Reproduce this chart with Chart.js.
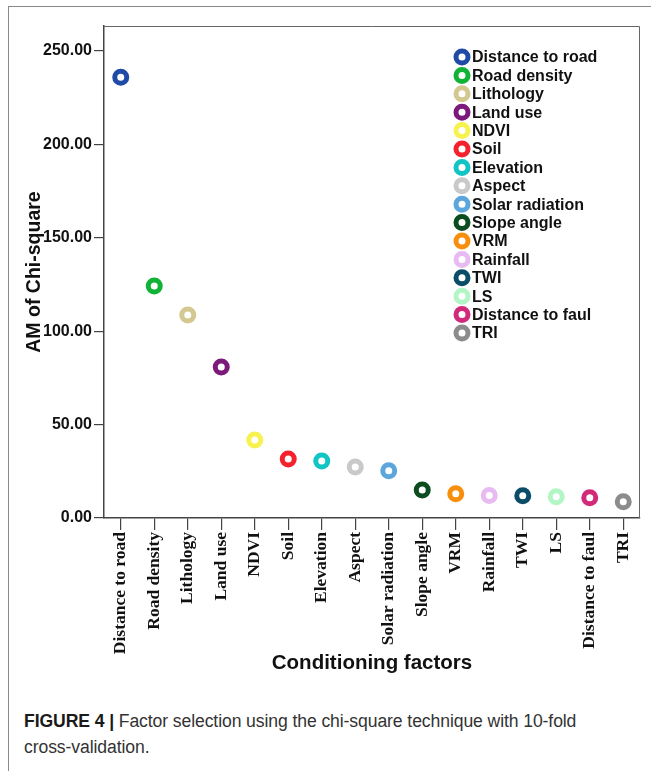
<!DOCTYPE html>
<html>
<head>
<meta charset="utf-8">
<script src="https://cdn.jsdelivr.net/npm/chart.js@4.4.1/dist/chart.umd.min.js"></script>
<style>
  html, body { margin: 0; padding: 0; background: #fff; }
  body { width: 651px; height: 771px; position: relative; overflow: hidden; }
  #moldura {
    position: absolute; left: 8px; top: 6px; right: 0; bottom: 0;
    border-left: 1px solid #8a8a8a; border-top: 1px solid #8a8a8a;
  }
  #caixa { position: absolute; left: 0; top: 0; width: 651px; height: 700px; }
  #legenda {
    position: absolute; left: 24px; top: 708px; width: 600px;
    font-family: "Liberation Sans", Arial, sans-serif; font-size: 17.6px;
    line-height: 26px; color: #333; letter-spacing: -0.1px;
  }
  #legenda b { color: #1a1a1a; }
</style>
</head>
<body>
<div id="moldura"></div>
<div id="caixa"><canvas id="grafico"></canvas></div>
<div id="legenda"><b>FIGURE 4 |</b> Factor selection using the chi-square technique with 10-fold cross-validation.</div>
<script>
// Fatores (categorias do eixo x)
const fatores = [
  "Distance to road", "Road density", "Lithology", "Land use", "NDVI", "Soil",
  "Elevation", "Aspect", "Solar radiation", "Slope angle", "VRM", "Rainfall",
  "TWI", "LS", "Distance to faul", "TRI"
];

// Valores médios do qui-quadrado
const valores = [236.0, 124.2, 108.7, 80.8, 41.8, 31.6, 30.5, 27.3, 25.3, 15.0, 13.0, 12.1, 11.9, 11.4, 10.9, 8.7];

// Cor de cada fator
const cores = [
  "#1f4aa6", "#10b336", "#d3c88f", "#7b1a7b", "#f8f24e", "#f5222e",
  "#13c4c4", "#c9c9c9", "#5ba6dc", "#0b4d1f", "#f88f0c", "#e7bbf2",
  "#0b4c68", "#b3f6c6", "#d22a7a", "#8c8c8c"
];

// Marcas do eixo y
const marcasY = [0, 50, 100, 150, 200, 250];

// Plugin: moldura do gráfico e legenda dentro da área
const pluginLegenda = {
  id: "legendaInterna",
  afterDraw(chart) {
    const { ctx, chartArea } = chart;
    ctx.save();
    // bordas superior e direita
    ctx.strokeStyle = "#666";
    ctx.lineWidth = 1;
    ctx.beginPath();
    ctx.moveTo(chartArea.left, chartArea.top + 0.5);
    ctx.lineTo(chartArea.right - 0.5, chartArea.top + 0.5);
    ctx.lineTo(chartArea.right - 0.5, chartArea.bottom);
    ctx.stroke();

    // legenda
    const x0 = chartArea.left + 358;
    const y0 = chartArea.top + 31;
    const passo = 18.4;
    ctx.font = "bold 16px 'Liberation Sans', Arial, sans-serif";
    ctx.textBaseline = "middle";
    ctx.textAlign = "left";
    fatores.forEach((nome, i) => {
      const y = y0 + i * passo;
      ctx.beginPath();
      ctx.arc(x0, y, 6, 0, Math.PI * 2);
      ctx.fillStyle = "#fff";
      ctx.fill();
      ctx.lineWidth = 5;
      ctx.strokeStyle = cores[i];
      ctx.stroke();
      ctx.fillStyle = "#111";
      ctx.fillText(nome, x0 + 10, y + 1);
    });
    ctx.restore();
  }
};

const ctx = document.getElementById("grafico").getContext("2d");
new Chart(ctx, {
  type: "line",
  data: {
    labels: fatores,
    datasets: [{
      label: "AM of Chi-square",
      data: valores,
      showLine: false,
      pointRadius: 6,
      pointHoverRadius: 6,
      pointBorderWidth: 5,
      pointHoverBorderWidth: 5,
      pointBorderColor: cores,
      pointBackgroundColor: "#fff"
    }]
  },
  options: {
    responsive: true,
    maintainAspectRatio: false,
    animation: false,
    devicePixelRatio: 1,
    layout: { padding: { left: 0, top: 26, right: 9, bottom: 0 } },
    plugins: {
      legend: { display: false },
      tooltip: { enabled: false }
    },
    scales: {
      x: {
        type: "category",
        offset: true,
        afterFit: s => { s.height = 182; },
        border: { display: true, color: "#444", width: 1.5 },
        grid: {
          display: true, drawOnChartArea: false, drawTicks: true,
          tickLength: 12, color: "#444", lineWidth: 1.2, offset: false
        },
        ticks: {
          autoSkip: false, minRotation: 90, maxRotation: 90, padding: 2,
          color: "#111",
          font: { family: "'Liberation Serif', 'Times New Roman', serif", size: 17.5, weight: "bold" }
        },
        title: {
          display: true, text: "Conditioning factors", color: "#111",
          padding: { top: 0, bottom: 24 },
          font: { family: "'Liberation Sans', Arial, sans-serif", size: 20.5, weight: "bold" }
        }
      },
      y: {
        min: 0,
        max: 263.4,
        afterFit: s => { s.width = 104; },
        afterBuildTicks: s => { s.ticks = marcasY.map(v => ({ value: v })); },
        border: { display: true, color: "#444", width: 1.5 },
        grid: {
          display: true, drawOnChartArea: false, drawTicks: true,
          tickLength: 10, color: "#444", lineWidth: 1.2
        },
        ticks: {
          padding: 2, color: "#111",
          callback: v => Number(v).toFixed(2),
          font: { family: "'Liberation Sans', Arial, sans-serif", size: 16, weight: "bold" }
        },
        title: {
          display: true, text: "AM of Chi-square", color: "#111",
          padding: { top: 23, bottom: 0 },
          font: { family: "'Liberation Sans', Arial, sans-serif", size: 19.5, weight: "bold" }
        }
      }
    }
  },
  plugins: [pluginLegenda]
});
</script>
</body>
</html>
